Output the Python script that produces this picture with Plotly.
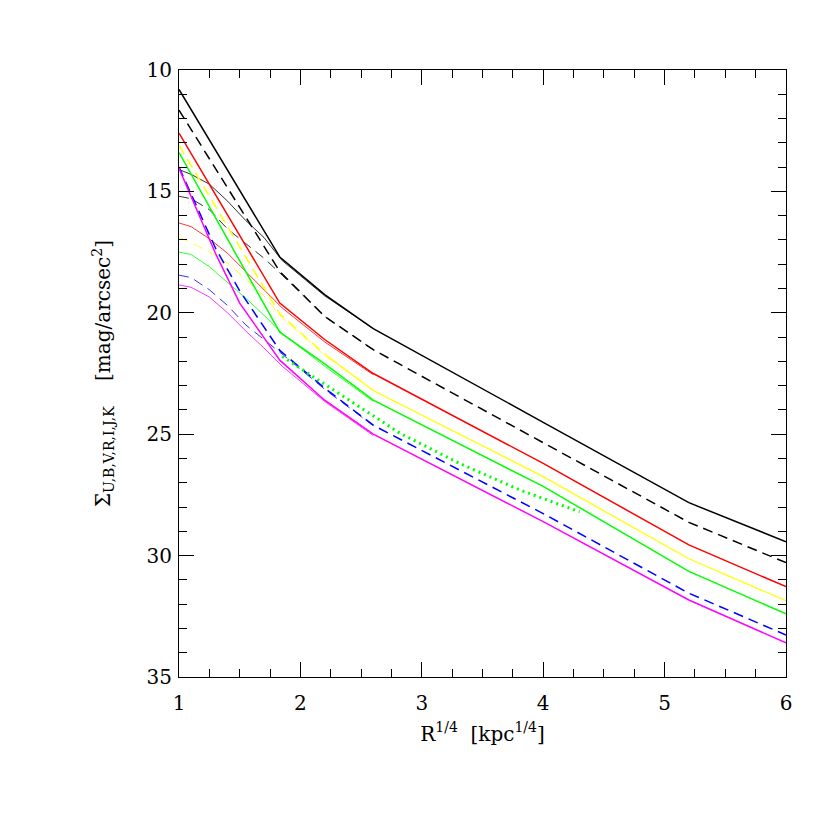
import plotly.graph_objects as go

# R^{1/4} sample points for the outer (thick) profiles
r_outer = [1.0, 1.15, 1.3, 1.5, 1.83, 2.2, 2.6, 4.0, 5.2, 6.0]
u_outer = [10.8, 12.05, 13.3, 14.96, 17.7, 19.25, 20.65, 24.51, 27.82, 29.43]
b_outer = [11.65, 12.85, 14.05, 15.65, 18.3, 20.15, 21.52, 25.35, 28.63, 30.29]
v_outer = [12.6, 13.86, 15.13, 16.82, 19.6, 21.1, 22.5, 26.2, 29.56, 31.28]
r_band_outer = [13.1, 14.36, 15.6, 17.3, 20.05, 21.7, 23.2, 26.75, 30.13, 31.86]
i_outer = [13.4, 14.74, 16.07, 17.85, 20.8, 22.1, 23.6, 27.15, 30.65, 32.4]
j_outer = [14.0, 15.67, 17.33, 19.1, 21.55, 23.1, 24.63, 28.27, 31.55, 33.27]
k_outer = [14.05, 15.8, 17.55, 19.6, 21.95, 23.6, 25.0, 28.6, 31.83, 33.59]

# inner (thin) profiles, which join the outer ones past R^{1/4} ~ 2.2
r_inner = [1.0, 1.1, 1.25, 1.4, 1.55, 1.7, 1.85, 2.2, 2.6]
u_inner = [14.1, 14.3, 14.7, 15.4, 16.2, 16.9, 17.85, 19.3, 20.65]
b_inner = [15.2, 15.3, 15.75, 16.55, 17.15, 17.75, 18.45, 20.15, 21.52]
v_inner = [16.3, 16.45, 16.95, 17.55, 18.3, 19.05, 19.8, 21.2, 22.55]
r_band_inner = [16.9, 17.1, 17.5, 17.95, 18.6, 19.3, 20.2, 21.75, 23.2]
i_inner = [17.5, 17.6, 18.1, 18.75, 19.4, 20.1, 20.85, 22.2, 23.65]
j_inner = [18.45, 18.55, 19.05, 19.7, 20.5, 21.1, 21.7, 23.15, 24.65]
k_inner = [18.85, 18.95, 19.35, 20.0, 20.75, 21.45, 22.2, 23.65, 25.05]

# green dotted profile
r_dot = [1.85, 2.2, 2.82, 3.31, 3.81, 4.3]
i_dot = [21.8, 22.95, 24.96, 26.2, 27.3, 28.2]

DASH = "10px,6px"
styles = [
    ("#000000", "solid"),
    ("#000000", DASH),
    ("#ff0000", "solid"),
    ("#ffff00", DASH),
    ("#00ff00", "solid"),
    ("#0000ff", DASH),
    ("#ff00ff", "solid"),
]
outer = [u_outer, b_outer, v_outer, r_band_outer, i_outer, j_outer, k_outer]
inner = [u_inner, b_inner, v_inner, r_band_inner, i_inner, j_inner, k_inner]

fig = go.Figure()
for (color, dash), ys in zip(styles, inner):
    fig.add_trace(go.Scatter(x=r_inner, y=ys, mode="lines",
                             line=dict(color=color, width=0.8, dash=dash)))
for (color, dash), ys in zip(styles, outer):
    if ys is r_band_outer:
        # dashed and thin profiles overlap further out, so it reads as solid there
        split = r_outer.index(2.2)
        fig.add_trace(go.Scatter(x=r_outer[:split + 1], y=ys[:split + 1], mode="lines",
                                 line=dict(color=color, width=1.5, dash=dash)))
        fig.add_trace(go.Scatter(x=r_outer[split:], y=ys[split:], mode="lines",
                                 line=dict(color=color, width=1.3)))
        continue
    fig.add_trace(go.Scatter(x=r_outer, y=ys, mode="lines",
                             line=dict(color=color, width=1.5, dash=dash)))
fig.add_trace(go.Scatter(x=r_dot, y=i_dot, mode="lines",
                         line=dict(color="#00ff00", width=3, dash="2px,4px")))

font = dict(family="DejaVu Serif", size=20, color="black")
axis_common = dict(
    showgrid=False, zeroline=False, showline=True, linecolor="black", linewidth=1,
    mirror="allticks", ticks="inside", ticklen=15, tickwidth=1, tickcolor="black",
    tickfont=font,
)
fig.update_layout(
    width=830, height=830,
    margin=dict(l=171, r=52, t=62, b=161),
    paper_bgcolor="white", plot_bgcolor="white",
    showlegend=False,
    xaxis=dict(range=[1, 6], dtick=1, tick0=1, ticklabelstandoff=8,
               minor=dict(dtick=0.25, ticklen=8, ticks="inside", tickcolor="black"),
               title=dict(text="R<sup>1/4</sup> &nbsp;[kpc<sup>1/4</sup>]", font=font, standoff=12),
               **axis_common),
    yaxis=dict(range=[35, 10], dtick=5, tick0=10, ticklabelstandoff=2,
               minor=dict(dtick=1, ticklen=8, ticks="inside", tickcolor="black"),
               title=dict(text="Σ<sub>U,B,V,R,I,J,K</sub> &nbsp;&nbsp;&nbsp;[mag/arcsec<sup>2</sup>]",
                          font=font, standoff=30),
               **axis_common),
)

fig.write_html("out.html")
